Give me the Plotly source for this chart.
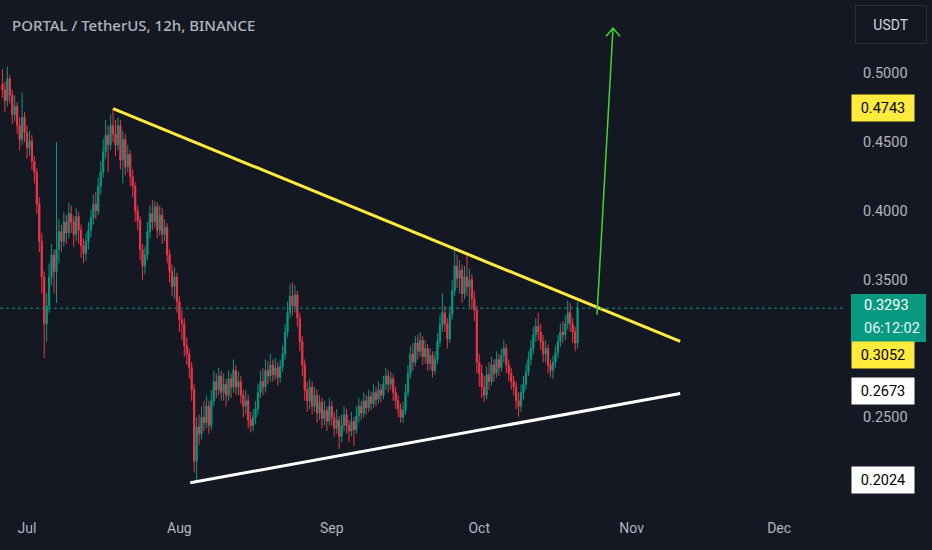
import pandas as pd
import plotly.graph_objects as go

# 12h candles PORTAL/USDT, starting 2024-06-26 00:00
first_open = 0.492
closes = [
    0.488, 0.480, 0.496, 0.484, 0.470, 0.476, 0.462, 0.452, 0.468, 0.457,
    0.446, 0.451, 0.436, 0.428, 0.405, 0.378, 0.352, 0.318, 0.331, 0.352,
    0.368, 0.356, 0.372, 0.385, 0.378, 0.392, 0.384, 0.398, 0.392, 0.383,
    0.396, 0.386, 0.375, 0.369, 0.378, 0.386, 0.395, 0.405, 0.400, 0.418,
    0.428, 0.443, 0.455, 0.448, 0.462, 0.456, 0.448, 0.462, 0.437, 0.452,
    0.432, 0.441, 0.425, 0.418, 0.400, 0.393, 0.372, 0.360, 0.368, 0.385,
    0.398, 0.392, 0.403, 0.386, 0.397, 0.383, 0.388, 0.368, 0.356, 0.345,
    0.352, 0.334, 0.321, 0.318, 0.302, 0.296, 0.286, 0.270, 0.218, 0.243,
    0.238, 0.250, 0.246, 0.258, 0.244, 0.262, 0.276, 0.270, 0.280, 0.268,
    0.274, 0.266, 0.278, 0.272, 0.284, 0.272, 0.276, 0.266, 0.258, 0.262,
    0.248, 0.244, 0.250, 0.256, 0.268, 0.276, 0.272, 0.284, 0.280, 0.288,
    0.281, 0.286, 0.279, 0.287, 0.296, 0.312, 0.326, 0.338, 0.331, 0.339,
    0.322, 0.305, 0.288, 0.270, 0.262, 0.272, 0.258, 0.266, 0.253, 0.261,
    0.249, 0.255, 0.247, 0.258, 0.250, 0.242, 0.248, 0.236, 0.244, 0.252,
    0.244, 0.240, 0.247, 0.241, 0.251, 0.258, 0.253, 0.262, 0.257, 0.265,
    0.260, 0.268, 0.263, 0.270, 0.266, 0.274, 0.280, 0.274, 0.278, 0.268,
    0.262, 0.256, 0.250, 0.255, 0.268, 0.282, 0.296, 0.290, 0.304, 0.298,
    0.306, 0.294, 0.300, 0.289, 0.295, 0.284, 0.292, 0.305, 0.317, 0.326,
    0.318, 0.307, 0.325, 0.342, 0.360, 0.351, 0.357, 0.340, 0.352, 0.345,
    0.350, 0.336, 0.328, 0.290, 0.282, 0.272, 0.266, 0.281, 0.276, 0.288,
    0.282, 0.292, 0.286, 0.295, 0.300, 0.288, 0.282, 0.276, 0.272, 0.262,
    0.258, 0.268, 0.274, 0.283, 0.292, 0.300, 0.310, 0.316, 0.312, 0.305,
    0.296, 0.300, 0.288, 0.284, 0.290, 0.297, 0.305, 0.312, 0.310, 0.318,
    0.326, 0.318, 0.312, 0.304, 0.3293,
]
highs = [
    0.503, 0.494, 0.505, 0.499, 0.488, 0.484, 0.479, 0.468, 0.486, 0.472,
    0.462, 0.458, 0.455, 0.440, 0.431, 0.410, 0.384, 0.356, 0.340, 0.362,
    0.376, 0.372, 0.450, 0.394, 0.390, 0.399, 0.397, 0.406, 0.404, 0.396,
    0.402, 0.399, 0.390, 0.380, 0.384, 0.392, 0.401, 0.412, 0.414, 0.424,
    0.436, 0.452, 0.466, 0.462, 0.470, 0.4743, 0.466, 0.468, 0.466, 0.458,
    0.456, 0.448, 0.444, 0.430, 0.421, 0.404, 0.396, 0.376, 0.374, 0.392,
    0.404, 0.408, 0.407, 0.406, 0.404, 0.402, 0.394, 0.391, 0.372, 0.361,
    0.359, 0.355, 0.338, 0.328, 0.322, 0.308, 0.300, 0.290, 0.274, 0.250,
    0.252, 0.258, 0.262, 0.266, 0.262, 0.270, 0.284, 0.282, 0.286, 0.284,
    0.282, 0.278, 0.284, 0.282, 0.292, 0.288, 0.283, 0.280, 0.270, 0.270,
    0.266, 0.254, 0.256, 0.262, 0.274, 0.284, 0.286, 0.292, 0.291, 0.296,
    0.292, 0.293, 0.290, 0.292, 0.302, 0.318, 0.334, 0.347, 0.348, 0.346,
    0.342, 0.326, 0.309, 0.292, 0.276, 0.278, 0.276, 0.272, 0.270, 0.266,
    0.264, 0.262, 0.258, 0.264, 0.262, 0.254, 0.256, 0.251, 0.252, 0.258,
    0.256, 0.248, 0.254, 0.250, 0.258, 0.264, 0.262, 0.268, 0.266, 0.270,
    0.269, 0.274, 0.272, 0.276, 0.274, 0.280, 0.286, 0.284, 0.283, 0.281,
    0.272, 0.266, 0.260, 0.261, 0.274, 0.288, 0.302, 0.304, 0.309, 0.310,
    0.312, 0.309, 0.306, 0.303, 0.300, 0.298, 0.298, 0.311, 0.324, 0.340,
    0.331, 0.322, 0.331, 0.350, 0.372, 0.368, 0.364, 0.361, 0.360, 0.370,
    0.358, 0.354, 0.342, 0.331, 0.296, 0.288, 0.280, 0.287, 0.290, 0.294,
    0.292, 0.298, 0.296, 0.300, 0.306, 0.303, 0.292, 0.286, 0.280, 0.276,
    0.268, 0.274, 0.280, 0.289, 0.298, 0.306, 0.316, 0.322, 0.326, 0.318,
    0.310, 0.306, 0.303, 0.292, 0.295, 0.302, 0.310, 0.318, 0.320, 0.324,
    0.335, 0.333, 0.322, 0.316, 0.334,
]
lows = [
    0.482, 0.472, 0.476, 0.478, 0.463, 0.465, 0.456, 0.444, 0.448, 0.450,
    0.438, 0.440, 0.430, 0.420, 0.398, 0.370, 0.340, 0.293, 0.305, 0.326,
    0.346, 0.340, 0.333, 0.362, 0.370, 0.374, 0.376, 0.380, 0.384, 0.374,
    0.378, 0.376, 0.366, 0.362, 0.364, 0.372, 0.381, 0.390, 0.394, 0.397,
    0.412, 0.424, 0.438, 0.428, 0.444, 0.450, 0.440, 0.444, 0.430, 0.420,
    0.426, 0.428, 0.418, 0.410, 0.392, 0.386, 0.364, 0.350, 0.354, 0.364,
    0.380, 0.386, 0.388, 0.380, 0.382, 0.376, 0.378, 0.362, 0.348, 0.338,
    0.336, 0.326, 0.312, 0.306, 0.294, 0.288, 0.278, 0.262, 0.210, 0.2024,
    0.230, 0.234, 0.240, 0.242, 0.238, 0.241, 0.258, 0.264, 0.266, 0.262,
    0.262, 0.258, 0.262, 0.264, 0.268, 0.266, 0.266, 0.260, 0.250, 0.252,
    0.242, 0.239, 0.240, 0.245, 0.252, 0.264, 0.266, 0.268, 0.274, 0.276,
    0.276, 0.277, 0.273, 0.275, 0.283, 0.292, 0.308, 0.322, 0.324, 0.326,
    0.316, 0.298, 0.280, 0.262, 0.254, 0.256, 0.252, 0.254, 0.246, 0.248,
    0.242, 0.244, 0.240, 0.244, 0.244, 0.236, 0.238, 0.227, 0.232, 0.240,
    0.238, 0.232, 0.236, 0.229, 0.238, 0.246, 0.248, 0.250, 0.252, 0.254,
    0.255, 0.257, 0.258, 0.260, 0.261, 0.263, 0.270, 0.268, 0.270, 0.262,
    0.256, 0.250, 0.246, 0.246, 0.252, 0.265, 0.278, 0.284, 0.287, 0.292,
    0.294, 0.288, 0.289, 0.284, 0.284, 0.279, 0.281, 0.289, 0.301, 0.312,
    0.312, 0.300, 0.304, 0.321, 0.338, 0.344, 0.340, 0.333, 0.336, 0.338,
    0.330, 0.328, 0.320, 0.282, 0.272, 0.264, 0.261, 0.263, 0.270, 0.273,
    0.276, 0.279, 0.280, 0.283, 0.290, 0.282, 0.276, 0.270, 0.266, 0.256,
    0.250, 0.254, 0.263, 0.270, 0.280, 0.288, 0.296, 0.305, 0.306, 0.299,
    0.290, 0.290, 0.282, 0.279, 0.278, 0.286, 0.293, 0.301, 0.304, 0.306,
    0.314, 0.312, 0.304, 0.298, 0.300,
]

# drawn trend lines (start, end)
upper_line_dates = ['2024-07-18 12:00', '2024-11-10 21:00']
upper_line_prices = [0.4743, 0.3052]
lower_line_dates = ['2024-08-03 05:00', '2024-11-10 21:00']
lower_line_prices = [0.2024, 0.2673]
arrow_dates = ['2024-10-24 23:00', '2024-10-28 05:00']
arrow_prices = [0.3246, 0.5328]

last_price = 0.3293
countdown = '06:12:02'
price_ticks = [0.25, 0.35, 0.40, 0.45, 0.50]
month_ticks = ['2024-07-01', '2024-08-01', '2024-09-01', '2024-10-01', '2024-11-01', '2024-12-01']
month_labels = ['Jul', 'Aug', 'Sep', 'Oct', 'Nov', 'Dec']

BG = '#141823'
TXT = '#b2b5be'
UP = '#089981'
DOWN = '#f23645'
YELLOW = '#ffeb3b'


def main():
    dates = pd.date_range('2024-06-26 00:00', periods=len(closes), freq='12h')
    opens = [first_open] + closes[:-1]

    fig = go.Figure()
    fig.add_trace(go.Candlestick(
        x=dates, open=opens, high=highs, low=lows, close=closes,
        increasing=dict(line=dict(color=UP, width=1), fillcolor=UP),
        decreasing=dict(line=dict(color=DOWN, width=1), fillcolor=DOWN),
        hoverinfo='skip', showlegend=False))

    fig.add_trace(go.Scatter(x=pd.to_datetime(upper_line_dates), y=upper_line_prices, mode='lines',
                             line=dict(color=YELLOW, width=3), hoverinfo='skip', showlegend=False))
    fig.add_trace(go.Scatter(x=pd.to_datetime(lower_line_dates), y=lower_line_prices, mode='lines',
                             line=dict(color='#ffffff', width=3), hoverinfo='skip', showlegend=False))
    fig.add_trace(go.Scatter(x=pd.to_datetime(arrow_dates), y=arrow_prices, mode='lines',
                             line=dict(color='#45d62c', width=1.5), hoverinfo='skip', showlegend=False))

    # arrow head (open chevron, pixel sized)
    fig.add_shape(type='path', xref='x', yref='y', xsizemode='pixel', ysizemode='pixel',
                  xanchor=arrow_dates[1], yanchor=arrow_prices[1],
                  path='M -7 -8 L 0 0 L 7 -8', line=dict(color='#45d62c', width=1.5))

    # last price dotted line
    fig.add_shape(type='line', xref='paper', x0=0, x1=1, yref='y', y0=last_price, y1=last_price,
                  line=dict(color=UP, width=1, dash='dot'))

    # price axis labels
    def box(y, text, bg, fg):
        fig.add_annotation(xref='paper', x=1, xanchor='left', xshift=6, yref='y', y=y,
                           yanchor='middle', text=text, showarrow=False, bgcolor=bg, borderpad=4,
                           width=54, height=18, align='center',
                           font=dict(family='Roboto', size=14.5, color=fg))

    box(0.4748, '0.4743', YELLOW, '#000000')
    box(0.2953, '0.3052', YELLOW, '#000000')
    box(0.2691, '0.2673', '#ffffff', '#000000')
    box(0.2044, '0.2024', '#ffffff', '#000000')

    fig.add_shape(type='rect', xref='paper', x0=1 + 6 / 845, x1=1 + 81 / 845, yref='y',
                  y0=0.3047, y1=0.3396, fillcolor=UP, line=dict(width=0), layer='above')
    fig.add_annotation(xref='paper', x=1 + 17 / 845, xanchor='left', yref='y', y=0.3316,
                       yanchor='middle', text='%.4f' % last_price, showarrow=False,
                       font=dict(family='Roboto', size=14.5, color='#ffffff'))
    fig.add_annotation(xref='paper', x=1 + 17 / 845, xanchor='left', yref='y', y=0.3149,
                       yanchor='middle', text=countdown, showarrow=False,
                       font=dict(family='Roboto', size=14.5, color='#e8f5f1'))

    # currency button and title
    fig.add_annotation(xref='paper', x=891 / 845, xanchor='center', y=0.9512, yref='paper',
                       yanchor='middle', text='USDT', showarrow=False, width=70, height=37,
                       bordercolor='#2a2e39', borderwidth=1, borderpad=0,
                       font=dict(family='Roboto', size=14, color='#d1d4dc'))
    fig.add_annotation(xref='paper', x=10 / 845, xanchor='left', y=0.9512, yref='paper',
                       yanchor='middle', text='PORTAL / TetherUS, 12h, BINANCE', showarrow=False,
                       font=dict(family='Noto Sans', size=15, weight=500, color=TXT))

    fig.update_layout(width=932, height=550, margin=dict(l=0, r=87, t=0, b=38),
                      paper_bgcolor=BG, plot_bgcolor=BG, showlegend=False,
                      hovermode=False, dragmode=False)
    fig.update_xaxes(type='date', range=['2024-06-25 12:10', '2024-12-14 09:40'],
                     rangeslider_visible=False, showgrid=False, zeroline=False, showline=False,
                     tickvals=month_ticks, ticktext=month_labels, ticks='',
                     ticklabelstandoff=6, tickfont=dict(family='Roboto', size=14, color=TXT))
    fig.update_yaxes(side='right', range=[0.18118, 0.55327], showgrid=False, zeroline=False,
                     showline=False, tickvals=price_ticks, ticktext=['%.4f' % v for v in price_ticks],
                     ticks='', ticklabelstandoff=17, tickfont=dict(family='Roboto', size=14.5, color=TXT))

    fig.write_html('out.html', config={'displayModeBar': False},
                   post_script="document.body.style.margin='0';"
                               "document.body.style.background='%s';" % BG)


if __name__ == '__main__':
    main()
